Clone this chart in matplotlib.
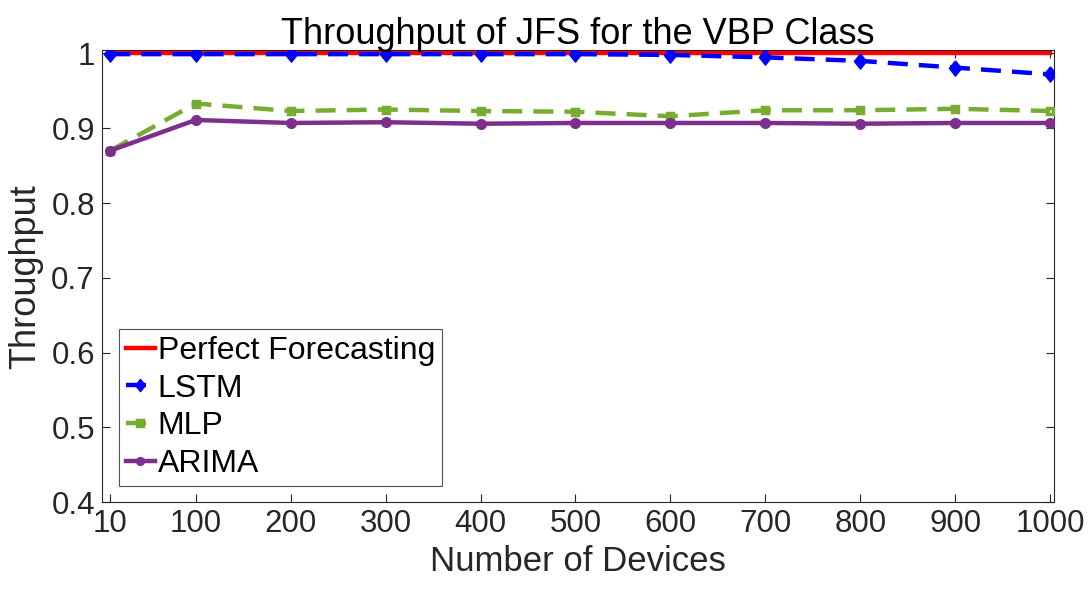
import matplotlib
matplotlib.use("Agg")
import matplotlib.pyplot as plt

devices = [10, 100, 200, 300, 400, 500, 600, 700, 800, 900, 1000]
perfect = [1.0, 1.0, 1.0, 1.0, 1.0, 1.0, 1.0, 1.0, 1.0, 1.0, 1.0]
lstm = [0.999, 0.999, 0.999, 0.999, 0.999, 0.999, 0.998, 0.9947, 0.990, 0.981, 0.972]
mlp = [0.870, 0.933, 0.923, 0.925, 0.923, 0.922, 0.916, 0.924, 0.924, 0.926, 0.923]
arima = [0.870, 0.911, 0.907, 0.908, 0.906, 0.907, 0.907, 0.907, 0.906, 0.907, 0.907]
xticks = [10, 100, 200, 300, 400, 500, 600, 700, 800, 900, 1000]
yticks = [0.4, 0.5, 0.6, 0.7, 0.8, 0.9, 1.0]
yticklabels = ["0.4", "0.5", "0.6", "0.7", "0.8", "0.9", "1"]

plt.rcParams['font.family'] = ['Liberation Sans', 'DejaVu Sans']

diamond = [(0, 1), (0.8, 0), (0, -1), (-0.8, 0), (0, 1)]

fig = plt.figure(figsize=(10.9, 5.97), dpi=100)
ax = fig.add_axes([0.0933, 0.1586, 0.8737, 0.7576])

ax.plot(devices, perfect, color='#FF0000', lw=3.2, label='Perfect Forecasting', zorder=2)
ax.plot(devices, lstm, color='#0000FF', lw=3.2, ls=(0, (4.5, 2.5)), marker=diamond,
        markersize=11, label='LSTM', zorder=3)
ax.plot(devices, mlp, color='#77AC30', lw=3.2, ls=(0, (4.5, 2.5)), marker='s',
        markersize=5, mfc='none', mew=2.5, label='MLP', zorder=3)
ax.plot(devices, arima, color='#7E2F8E', lw=3.2, marker='o', markersize=7,
        label='ARIMA', zorder=3)

ax.set_xlim(1, 1004)
ax.set_ylim(0.4, 1.0045)
ax.set_xticks(xticks)
ax.set_xticklabels([str(v) for v in xticks])
ax.set_yticks(yticks)
ax.set_yticklabels(yticklabels)
ax.tick_params(direction='in', top=True, right=True, labelsize=22.5,
               labelcolor='#262626', color='#262626', length=6, width=0.8, pad=5)
for s in ax.spines.values():
    s.set_color('#262626')
    s.set_linewidth(0.8)

ax.set_title('Throughput of JFS for the VBP Class', fontsize=26, pad=4)
ax.set_xlabel('Number of Devices', fontsize=25, color='#262626', labelpad=4)
ax.set_ylabel('Throughput', fontsize=26, color='#262626', labelpad=6)

leg = ax.legend(loc='lower left', bbox_to_anchor=(0.018, 0.036), fontsize=23,
                frameon=True, fancybox=False, edgecolor='#262626',
                handlelength=0.9, handletextpad=0.1, labelspacing=0.24,
                borderpad=0.22, borderaxespad=0.0, markerscale=0.8)
leg.get_frame().set_linewidth(0.8)

fig.savefig('out.png', dpi=100)
